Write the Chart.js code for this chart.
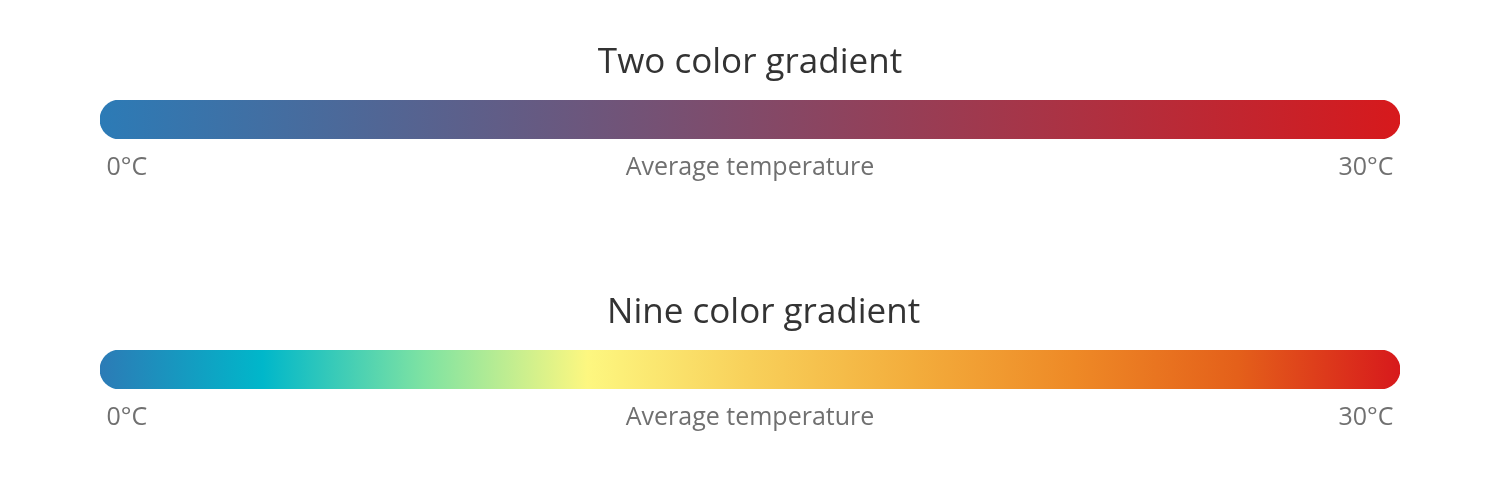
<!DOCTYPE html>
<html>
<head>
<meta charset="utf-8">
<script src="https://cdn.jsdelivr.net/npm/chart.js@4/dist/chart.umd.min.js"></script>
<style>
  body { margin: 0; background: #fff; overflow: hidden; }
  .box { position: relative; width: 1500px; height: 250px; }
</style>
</head>
<body>
<div class="box"><canvas id="twoChart"></canvas></div>
<div class="box"><canvas id="nineChart"></canvas></div>
<script>
// temperature domain and axis labels
const tempRange = [0, 30];
const tickValues = [0, 15, 30];
const tickLabels = [' 0°C', 'Average temperature', '30°C '];

// gradient colours, spread evenly over the bar
const twoColors = ['#2c7bb6', '#d7191c'];
const nineColors = ['#2c7bb6', '#00b7ca', '#7fe3a2', '#fdf780', '#f8d05a', '#f3ad3c', '#ee8926', '#e4601a', '#d7191c'];

function makeGradient(colors) {
  return function (context) {
    const chart = context.chart;
    const area = chart.chartArea;
    if (!area) return colors[0];
    const g = chart.ctx.createLinearGradient(area.left, 0, area.right, 0);
    colors.forEach((c, i) => g.addColorStop(i / (colors.length - 1), c));
    return g;
  };
}

function gradientChart(id, title, colors) {
  const ctx = document.getElementById(id).getContext('2d');
  return new Chart(ctx, {
    type: 'bar',
    data: {
      labels: [title.trim()],
      datasets: [{
        data: [[tempRange[0], tempRange[1]]],
        backgroundColor: makeGradient(colors),
        borderRadius: 20,
        borderSkipped: false,
        barPercentage: 1,
        categoryPercentage: 1,
      }],
    },
    options: {
      indexAxis: 'y',
      responsive: true,
      maintainAspectRatio: false,
      animation: false,
      layout: { padding: { left: 100, right: 100, top: 0, bottom: 53 } },
      plugins: {
        legend: { display: false },
        tooltip: { enabled: false },
        title: {
          display: true,
          text: title,
          color: '#333',
          font: { family: 'Open Sans', size: 35, weight: 'normal' },
          padding: { top: 42, bottom: 16 },
        },
      },
      scales: {
        y: { display: false },
        x: {
          min: tempRange[0],
          max: tempRange[1],
          grid: { display: false, drawTicks: false },
          border: { display: false },
          afterBuildTicks: scale => { scale.ticks = tickValues.map(v => ({ value: v })); },
          ticks: {
            align: 'inner',
            autoSkip: false,
            maxRotation: 0,
            padding: 14,
            color: '#707070',
            font: { family: 'Open Sans', size: 25 },
            callback: (v, i) => tickLabels[i],
          },
        },
      },
    },
  });
}

gradientChart('twoChart', 'Two color gradient', twoColors);
// the second title sits a little right of centre in the original
gradientChart('nineChart', '   Nine color gradient', nineColors);
</script>
</body>
</html>
